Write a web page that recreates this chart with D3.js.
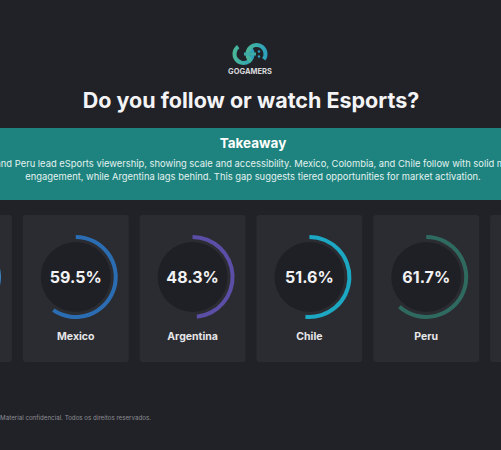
<!DOCTYPE html>
<html>
<head>
<meta charset="utf-8">
<script src="https://cdn.jsdelivr.net/npm/d3@7"></script>
<style>
  html, body { margin: 0; padding: 0; background: #212227; overflow: hidden; }
  svg { display: block; font-family: "Inter", "Open Sans", sans-serif; }
</style>
</head>
<body>
<div id="root"></div>
<script>
const countries = ["Brazil", "Mexico", "Argentina", "Chile", "Peru", "Colombia"];
const values = [66.0, 59.5, 48.3, 51.6, 61.7, 56.0];
const ringColors = ["#3b8fd4", "#2b6db3", "#5a4ea6", "#1ca7c2", "#2f6a61", "#3aa37a"];

const title = "Do you follow or watch Esports?";
const takeawayTitle = "Takeaway";
const takeawayLines = [
    "Brazil and Peru lead eSports viewership, showing scale and accessibility. Mexico, Colombia, and Chile follow with solid mid-level",
    "engagement, while Argentina lags behind. This gap suggests tiered opportunities for market activation."
];
const footer = "© 2025 GoGamers Group. Material confidencial. Todos os direitos reservados.";

const w = 501;
const h = 450;

const svg = d3.select("#root")
    .append("svg")
    .attr("width", w)
    .attr("height", h);

svg.append("rect")
    .attr("width", w)
    .attr("height", h)
    .attr("fill", "#212227");

// logo: two interlocked G rings
const defs = svg.append("defs");
const grad = defs.append("linearGradient")
    .attr("id", "logoGrad")
    .attr("x1", "0%").attr("x2", "100%");
grad.append("stop").attr("offset", "0%").attr("stop-color", "#4bb795");
grad.append("stop").attr("offset", "100%").attr("stop-color", "#2a9fbf");

const logo = svg.append("g").attr("transform", "translate(250,54)");
const gArc = d3.arc().innerRadius(7).outerRadius(11);
logo.append("path")
    .attr("transform", "translate(-6.5,0)")
    .attr("d", gArc({ startAngle: Math.PI * 0.3, endAngle: Math.PI * 1.8 }))
    .attr("fill", "url(#logoGrad)");
logo.append("path")
    .attr("transform", "translate(6.5,0)")
    .attr("d", gArc({ startAngle: -Math.PI * 0.8, endAngle: Math.PI * 0.7 }))
    .attr("fill", "url(#logoGrad)");
logo.append("rect").attr("x", -6).attr("y", -1.5).attr("width", 12).attr("height", 3).attr("fill", "#3eaaa6");
logo.append("circle").attr("cx", 9).attr("cy", -2.5).attr("r", 1.2).attr("fill", "#2b9fbd");
logo.append("circle").attr("cx", 9).attr("cy", 2.5).attr("r", 1.2).attr("fill", "#2b9fbd");

svg.append("text")
    .attr("x", 250)
    .attr("y", 74)
    .attr("text-anchor", "middle")
    .attr("font-size", "7.5px")
    .attr("font-weight", 700)
    .attr("fill", "#d8d8dc")
    .text("GOGAMERS");

svg.append("text")
    .attr("x", 251)
    .attr("y", 108)
    .attr("text-anchor", "middle")
    .attr("font-size", "21.5px")
    .attr("font-weight", 700)
    .attr("fill", "#f4f4f6")
    .text(title);

// takeaway band
svg.append("rect")
    .attr("x", 0)
    .attr("y", 128)
    .attr("width", w)
    .attr("height", 72)
    .attr("fill", "#1e837e");

svg.append("text")
    .attr("x", 253)
    .attr("y", 148)
    .attr("text-anchor", "middle")
    .attr("font-size", "13.5px")
    .attr("font-weight", 700)
    .attr("fill", "#ffffff")
    .text(takeawayTitle);

const body = svg.selectAll("text.body")
    .data(takeawayLines)
    .enter()
    .append("text")
    .attr("class", "body")
    .attr("x", 253)
    .attr("y", (d, i) => 167 + i * 13)
    .attr("text-anchor", "middle")
    .attr("font-size", "9px")
    .attr("fill", "#e3f2f0")
    .text(d => d);

// fit font so the second line spans about 456px like the reference
const natural = body.nodes()[1].getComputedTextLength();
body.attr("font-size", (9 * 456 / natural) + "px");

// cards
const x = d3.scaleBand()
    .domain(countries)
    .range([-94, 596])
    .paddingInner(0.094);

const cardTop = 215;
const cardH = 147;
const ringY = 277;

const arc = d3.arc()
    .innerRadius(38)
    .outerRadius(42)
    .startAngle(0);

const pct = d3.scaleLinear().domain([0, 100]).range([0, 2 * Math.PI]);

const cards = svg.selectAll("g.card")
    .data(countries.map((c, i) => ({ country: c, value: values[i], color: ringColors[i] })))
    .enter()
    .append("g")
    .attr("class", "card")
    .attr("transform", d => `translate(${x(d.country)},${cardTop})`);

cards.append("rect")
    .attr("width", x.bandwidth())
    .attr("height", cardH)
    .attr("rx", 3)
    .attr("fill", "#2b2c31");

cards.append("circle")
    .attr("cx", x.bandwidth() / 2)
    .attr("cy", ringY - cardTop)
    .attr("r", 35)
    .attr("fill", "#1f2025");

cards.append("path")
    .attr("transform", `translate(${x.bandwidth() / 2},${ringY - cardTop})`)
    .attr("d", d => arc({ endAngle: pct(d.value) }))
    .attr("fill", d => d.color);

// labels only for cards whose centre is inside the view
const shown = cards.filter(d => {
    const c = x(d.country) + x.bandwidth() / 2;
    return c > 0 && c < w;
});

shown.append("text")
    .attr("x", x.bandwidth() / 2)
    .attr("y", ringY - cardTop + 5.5)
    .attr("text-anchor", "middle")
    .attr("font-size", "16px")
    .attr("font-weight", 700)
    .attr("fill", "#f2f2f4")
    .text(d => d.value.toFixed(1) + "%");

shown.append("text")
    .attr("x", x.bandwidth() / 2)
    .attr("y", 340 - cardTop)
    .attr("text-anchor", "middle")
    .attr("font-size", "10.5px")
    .attr("font-weight", 700)
    .attr("fill", "#e6e6e8")
    .text(d => d.country);

svg.append("text")
    .attr("x", 151)
    .attr("y", 420)
    .attr("text-anchor", "end")
    .attr("font-size", "6.2px")
    .attr("fill", "#8e8f95")
    .text(footer);
</script>
</body>
</html>
